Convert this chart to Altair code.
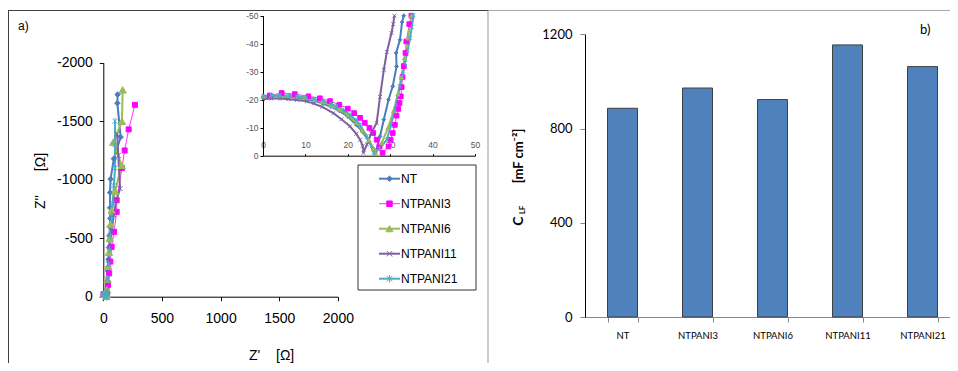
import altair as alt
import pandas as pd

# ---------------- data ----------------
SERIES = ["NT", "NTPANI3", "NTPANI6", "NTPANI11", "NTPANI21"]

# main Nyquist plot  (Z' , Z'')
nt_re = [0, 13, 26, 30, 33, 36, 40, 44, 48, 52, 56, 60, 58, 57, 62, 90, 148, 120, 122]
nt_im = [-21, -20, -1, -20, -50, -120, -220, -320, -420, -520, -600, -670, -760, -890, -1005, -1180, -1364, -1654, -1728]
p3_re = [2, 13, 28, 32, 40, 50, 60, 71, 91, 114, 114, 159, 182, 216, 270]
p3_im = [-22, -21, -1, -20, -100, -200, -300, -426, -554, -725, -825, -1100, -1250, -1430, -1640]
p6_re = [0, 13, 25, 29, 32, 36, 42, 48, 55, 62, 72, 100, 157, 85, 159, 165]
p6_im = [-21, -20, -1, -20, -60, -150, -260, -380, -500, -620, -740, -900, -1123, -1321, -1498, -1768]
p11_re = [0, 12, 24, 28, 31, 36, 45, 55, 70, 90, 110, 143, 128, 118]
p11_im = [-20, -19, -1, -30, -50, -150, -280, -420, -560, -700, -820, -924, -1208, -1390]
p21_re = [0, 13, 26, 31, 35, 40, 46, 53, 60, 70, 80, 90, 100, 100, 100]
p21_im = [-21, -20, -1, -16, -50, -150, -280, -400, -520, -660, -800, -950, -1100, -1300, -1500]

# inset (high frequency zoom)
nt_in_re = [0, 2, 4, 6, 8, 10, 12, 14, 16, 18, 20, 22, 23.5, 25, 26, 26.5, 27.6, 28.5, 29.6, 30.6, 31.5, 31.4, 32.3, 32.8, 33.2]
nt_in_im = [-21, -21.2, -21.2, -21, -20.7, -20.2, -19.6, -18.7, -17.5, -16, -14, -11, -8.5, -5, -2.5, -1, -6.9, -12.9, -20, -24.8, -31.9, -36.7, -41.4, -47.7, -50]
p3_in_re = [1.6, 4.4, 7.5, 10.7, 13.4, 15.8, 18, 20, 21.5, 22.9, 24, 25.1, 26, 26.8, 27.5, 28.2, 29.6, 30.1, 30.6, 31.1, 31.5, 31.9, 32.2, 32.5, 32.7, 32.9, 33.2, 33.6, 33.8, 34.5, 35]
p3_in_im = [-21.5, -22.4, -22, -21.2, -20.5, -19.5, -18.2, -16.8, -15.2, -13.5, -11.7, -9.9, -8.1, -5.7, -3.3, -1, -3.3, -5.7, -8.1, -11, -14.3, -16.7, -18.8, -21.2, -24.5, -28.1, -32, -36.7, -40.8, -47, -50]
p6_in_re = [0, 2, 4, 6, 8, 10, 12, 14, 16, 18, 20, 22, 23.5, 25, 26, 26.5, 28, 29.5, 30.8, 31.8, 32.6, 33.4, 34.2, 35]
p6_in_im = [-21.2, -21.4, -21.4, -21.3, -21, -20.6, -20, -19.2, -18, -16.5, -14.5, -11.7, -9, -5.5, -2.5, -1, -4.5, -10, -16, -22, -28, -35, -42, -50]
p11_in_re = [0, 2, 4, 6, 8, 10.3, 12, 14, 16.6, 18.5, 20.5, 22, 22.9, 23.5, 23.7, 24.5, 25.5, 26.8, 27.6, 28.5, 29.2, 30.3, 30.7, 31]
p11_in_im = [-20.2, -20.4, -20.4, -20.2, -19.9, -19.4, -18.6, -17.4, -15.2, -13, -10.5, -7.8, -5.7, -3.5, -1, -4, -8, -11.7, -21, -30.7, -37, -43.8, -47, -50]
p21_in_re = [0, 2, 4, 6.3, 8, 10.2, 12, 14.2, 16, 17.4, 19, 20.5, 22, 22.9, 24.5, 25.6, 26.1, 27.5, 29.2, 30.2, 31.1, 32.3, 33, 33.5, 34.1, 34.7, 35.1, 35.5]
p21_in_im = [-21.3, -21.5, -21.5, -21.5, -21.2, -20.8, -20.3, -19.6, -18.5, -17.6, -16.2, -14.6, -12.6, -11, -6.9, -3.3, -1, -2.5, -5.7, -11, -16.4, -24.8, -29, -33.1, -37.5, -42, -46, -50]

# bar chart
CATEGORIES = ["NT", "NTPANI3", "NTPANI6", "NTPANI11", "NTPANI21"]
C_LF = [886, 972, 923, 1155, 1063]

# ---------------- styles ----------------
LINE_COLORS = ["#4A7EBB", "#FF33FF", "#9BBB59", "#7D60A0", "#4BACC6"]
MARK_COLORS = ["#4A7EBB", "#FF00FF", "#9BBB59", "#7D60A0", "#4BACC6"]
LINE_WIDTHS = [2, 1, 2, 2, 2]
SHAPES = ["diamond", "square", "triangle-up",
          "M-1,-1L1,1M-1,1L1,-1",
          "M-1,-1L1,1M-1,1L1,-1M0,-1.4L0,1.4"]
MAIN_SIZES = [30, 25, 55, 25, 25]
INSET_SIZES = [14, 22, 18, 14, 14]
LEGEND_SIZES = [30, 30, 50, 30, 30]
ARIAL = "Liberation Sans"
CALIBRI = "Lato"


def build(pairs):
    rows = []
    for name, (re_, im_) in zip(SERIES, pairs):
        for i, (a, b) in enumerate(zip(re_, im_)):
            rows.append({"series": name, "re": a, "im": b, "idx": i})
    return pd.DataFrame(rows)


main_df = build([(nt_re, nt_im), (p3_re, p3_im), (p6_re, p6_im), (p11_re, p11_im), (p21_re, p21_im)])
inset_df = build([(nt_in_re, nt_in_im), (p3_in_re, p3_in_im), (p6_in_re, p6_in_im),
                  (p11_in_re, p11_in_im), (p21_in_re, p21_in_im)])
legend_df = pd.DataFrame({"series": SERIES})
bar_df = pd.DataFrame({"cat": CATEGORIES, "val": C_LF})
one = pd.DataFrame({"k": [0]})

color_line = alt.Color("series:N", scale=alt.Scale(domain=SERIES, range=LINE_COLORS), legend=None)
fill_mark = alt.Fill("series:N", scale=alt.Scale(domain=SERIES, range=MARK_COLORS), legend=None)
stroke_mark = alt.Stroke("series:N", scale=alt.Scale(domain=SERIES, range=MARK_COLORS), legend=None)
shape_mark = alt.Shape("series:N", scale=alt.Scale(domain=SERIES, range=SHAPES), legend=None)
width_line = alt.StrokeWidth("series:N", scale=alt.Scale(type="ordinal", domain=SERIES, range=LINE_WIDTHS), legend=None)

W, H = 942, 355

# ---------------- main plot ----------------
main_x = alt.X("re:Q", scale=alt.Scale(domain=[0, 2000], range=[95.3, 329.9], nice=False, zero=False),
               axis=alt.Axis(orient="bottom", offset=288.7 - H, values=[0, 500, 1000, 1500, 2000],
                             labelExpr="toString(datum.value)", title=None, grid=False,
                             labelFont=ARIAL, labelFontSize=14, labelColor="black", labelPadding=11,
                             labelFlush=False, labelOverlap=False,
                             domainColor="black", tickColor="black", tickSize=4))
main_y = alt.Y("im:Q", scale=alt.Scale(domain=[-2000, 0], range=[54.7, 288.7], nice=False, zero=False),
               axis=alt.Axis(orient="left", offset=-95.3, values=[0, -500, -1000, -1500, -2000],
                             labelExpr="toString(datum.value)", title=None, grid=False,
                             labelFont=ARIAL, labelFontSize=14, labelColor="black", labelPadding=7,
                             labelFlush=False, labelOverlap=False,
                             domainColor="black", tickColor="black", tickSize=4))
main_lines = alt.Chart(main_df).mark_line().encode(
    x=main_x, y=main_y, color=color_line, strokeWidth=width_line,
    order="idx:Q", detail="series:N")
main_points = alt.Chart(main_df).mark_point(filled=True, opacity=1, strokeWidth=1).encode(
    x=main_x, y=main_y, shape=shape_mark, fill=fill_mark, stroke=stroke_mark,
    size=alt.Size("series:N", scale=alt.Scale(type="ordinal", domain=SERIES, range=MAIN_SIZES), legend=None))
main = alt.layer(main_lines, main_points)

# ---------------- inset ----------------
in_x = alt.X("re:Q", scale=alt.Scale(domain=[0, 50], range=[255, 467], nice=False, zero=False),
             axis=alt.Axis(orient="top", offset=-147.7, values=[0, 10, 20, 30, 40, 50],
                           labelExpr="toString(datum.value)", title=None, grid=False,
                           labelFont=ARIAL, labelFontSize=8.5, labelColor="#555555", labelPadding=4,
                           labelFlush=False, labelOverlap=False,
                           domainColor="black", tickColor="black", tickSize=2))
in_y = alt.Y("im:Q", scale=alt.Scale(domain=[-50, 0], range=[7.7, 147.7], nice=False, zero=False),
             axis=alt.Axis(orient="left", offset=-255, values=[0, -10, -20, -30, -40, -50],
                           labelExpr="toString(datum.value)", title=None, grid=False,
                           labelFont=ARIAL, labelFontSize=8.5, labelColor="#555555", labelPadding=2,
                           labelFlush=False, labelOverlap=False,
                           domainColor="black", tickColor="black", tickSize=3))
in_lines = alt.Chart(inset_df).mark_line().encode(
    x=in_x, y=in_y, color=color_line, strokeWidth=width_line,
    order="idx:Q", detail="series:N")
in_points = alt.Chart(inset_df).mark_point(filled=True, opacity=1, strokeWidth=1).encode(
    x=in_x, y=in_y, shape=shape_mark, fill=fill_mark, stroke=stroke_mark,
    size=alt.Size("series:N", scale=alt.Scale(type="ordinal", domain=SERIES, range=INSET_SIZES), legend=None))
inset = alt.layer(in_lines, in_points)

# ---------------- legend ----------------
leg_y = alt.Y("series:N", scale=alt.Scale(type="point", domain=SERIES, range=[170.7, 270.7], padding=0), axis=None)
leg_box = alt.Chart(one).mark_rect(fill="white", stroke="#333333", strokeWidth=1).encode(
    x=alt.value(350), x2=alt.value(468), y=alt.value(157), y2=alt.value(282))
leg_rules = alt.Chart(legend_df).mark_rule().encode(
    x=alt.value(371), x2=alt.value(392), y=leg_y, color=color_line, strokeWidth=width_line)
leg_points = alt.Chart(legend_df).mark_point(filled=True, opacity=1, strokeWidth=1).encode(
    x=alt.value(381.5), y=leg_y, shape=shape_mark, fill=fill_mark, stroke=stroke_mark,
    size=alt.Size("series:N", scale=alt.Scale(type="ordinal", domain=SERIES, range=LEGEND_SIZES), legend=None))
leg_text = alt.Chart(legend_df).mark_text(align="left", baseline="middle", font=ARIAL, fontSize=12,
                                          color="black").encode(
    x=alt.value(393), y=leg_y, text="series:N")
legend = alt.layer(leg_box, leg_rules, leg_points, leg_text)

# ---------------- bar chart ----------------
bars = alt.Chart(bar_df).mark_bar(fill="#4F81BD", stroke="#404040", strokeWidth=1).encode(
    x=alt.X("cat:N", sort=CATEGORIES,
            scale=alt.Scale(domain=CATEGORIES, range=[577, 952], paddingInner=0.6, paddingOuter=0.3),
            axis=alt.Axis(orient="bottom", offset=309 - H, title=None, grid=False, tickBand="extent",
                          labelAngle=0, labelFont=CALIBRI, labelFontSize=9.5, labelColor="black",
                          labelPadding=8, domainColor="#888888", tickColor="#888888", tickSize=5)),
    y=alt.Y("val:Q", scale=alt.Scale(domain=[0, 1200], range=[309, 26.3], nice=False, zero=True),
            axis=alt.Axis(orient="left", offset=-577, values=[0, 400, 800, 1200], title=None, grid=False,
                          labelExpr="toString(datum.value)",
                          labelFont=CALIBRI, labelFontSize=13, labelColor="black", labelPadding=8,
                          labelFlush=False, domainColor="black", tickColor="#888888", tickSize=5)))


# ---------------- annotations ----------------
def txt(s, x, y, font=ARIAL, size=12, angle=0, weight="normal", align="left"):
    return alt.Chart(one).mark_text(text=s, font=font, fontSize=size, angle=angle, fontWeight=weight,
                                    align=align, baseline="middle", color="black").encode(
        x=alt.value(x), y=alt.value(y))


def rule(x1, x2, y1, y2, color):
    return alt.Chart(one).mark_rule(color=color, strokeWidth=1).encode(
        x=alt.value(x1), x2=alt.value(x2), y=alt.value(y1), y2=alt.value(y2))


borders = [
    rule(0, 480, 2.5, 2.5, "#404040"),
    rule(480, W, 2.5, 2.5, "#a6a6a6"),
    rule(0.5, 0.5, 2.5, H, "#404040"),
    rule(480, 480, 2.5, H, "#999999"),
]
texts = [
    txt("a)", 10, 18, size=12),
    txt("b)", 912, 22, font=CALIBRI, size=13),
    txt("Z'", 241, 348, size=14),
    txt("[Ω]", 268, 348, size=14),
    txt("Z''", 33, 194, size=14, angle=270, align="center"),
    txt("[Ω]", 33, 154, size=14, angle=270, align="center"),
    txt("C", 511, 213, font=CALIBRI, size=14, angle=270, weight="bold", align="center"),
    txt("LF", 514.5, 202, font=CALIBRI, size=8, angle=270, weight="bold", align="center"),
    txt("[mF cm⁻²]", 511, 148, font=CALIBRI, size=13, angle=270, weight="bold", align="center"),
]

chart = alt.layer(*borders, main, inset, legend, bars, *texts).resolve_scale(
    x="independent", y="independent", size="independent"
).properties(
    width=W, height=H, autosize=alt.AutoSizeParams(type="none"), padding=0
).configure_view(stroke=None)

chart.save("out.html", embed_options={"renderer": "svg", "actions": False})
